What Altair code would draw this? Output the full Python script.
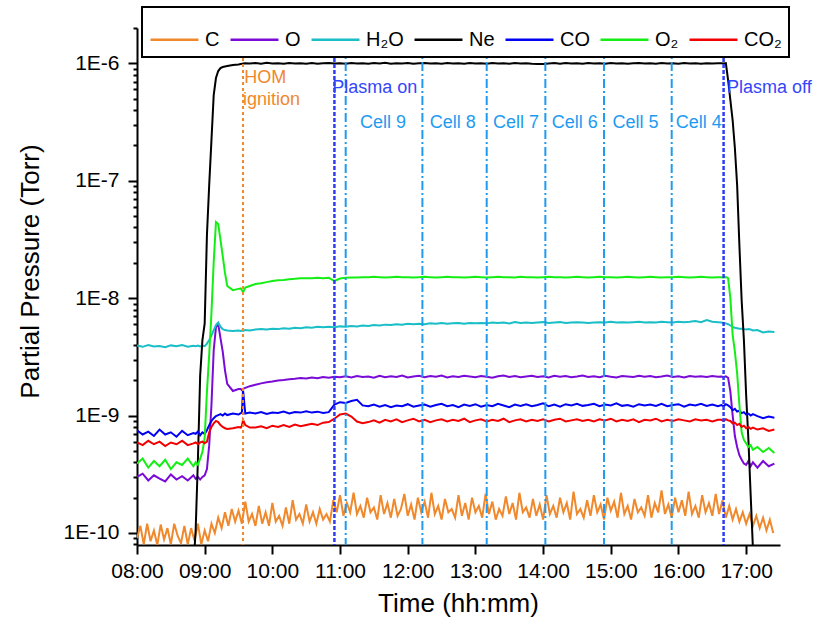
import altair as alt
import pandas as pd

# ---------------- time grid (minutes after 08:00) ----------------
G1 = [0, 5, 10, 15, 20, 25, 30, 35, 40, 45, 50]
G2 = [52, 54, 56, 58, 60, 62, 64, 66, 68, 70, 72, 74, 76, 78, 80]
G3A = [85, 90, 92, 93, 94, 96, 100]
G3B = list(range(105, 516, 5))
G4 = [518, 520, 522, 524, 526, 528, 530, 532, 534, 536, 538, 540, 542, 544, 546]
G5 = [550, 555, 560, 565]
MINUTES = G1 + G2 + G3A + G3B + G4 + G5
# the C trace is read at a finer, regular 3-minute spacing
C_MINUTES = list(range(0, 566, 3))

# ---------------- partial pressures, in units of 1E-10 Torr ----------------
NE = ([0.4, 0.4, 0.4, 0.4, 0.4, 0.4, 0.4, 0.4, 0.4, 0.45, 0.5]
      + [1.06, 4.2, 22, 44, 61, 345, 918, 2220, 5370, 7500, 8600, 9120, 9310, 9400, 9490]
      + [9690, 9770, 9860, 9900, 9950, 10000, 9950]
      + [10050, 9920, 10100, 9980, 10030, 9900, 10080, 9960, 10020, 9940,
         10060, 9930, 10010, 10090, 9950, 10040, 9910, 10070, 9980, 10020,
         9940, 10050, 9990, 10100, 9920, 10030, 9970, 10060, 9900, 10010,
         10080, 9950, 10020, 9930, 10060, 9990, 10040, 9910, 10070, 9960,
         10030, 9940, 10090, 9970, 10010, 9920, 10050, 9980, 10040, 9900,
         9850, 9880, 9960, 10050, 9930, 10070, 9990, 10020, 9940, 10060,
         9970, 10030, 9910, 10080, 9960, 10040, 9920, 10010, 10070, 9950,
         10020, 9940, 10060, 9980, 10030, 9900, 10050, 9970, 10010, 9930,
         10040, 9960, 10020]
      + [10000, 9950, 10020, 7210, 4870, 3290, 1900, 918, 283, 96, 44, 14.9, 6.2, 2.1, 0.74]
      + [0.4, 0.3, 0.3, 0.3])

O2 = ([3.9, 4.3, 3.6, 4.1, 3.7, 4.2, 3.5, 4.0, 3.8, 4.3, 3.7]
      + [4.0, 3.8, 4.3, 4.9, 6.5, 16, 33, 75, 203, 445, 428, 313, 228, 164, 127]
      + [117, 120, 121, 117, 112, 123, 127]
      + [132, 134, 137, 140, 142, 143, 145, 146, 148, 148,
         148, 149, 148, 149, 140, 147, 149, 150, 150, 151,
         151, 152, 151, 150, 151, 152, 151, 151, 150, 151,
         152, 151, 150, 151, 152, 151, 151, 150, 151, 152,
         151, 150, 151, 152, 151, 151, 150, 152, 151, 151,
         150, 151, 152, 151, 151, 150, 151, 152, 151, 150,
         151, 152, 151, 151, 150, 151, 152, 151, 150, 151,
         152, 151, 150, 151, 151, 152, 151, 150, 151, 152,
         151, 150, 151]
      + [151, 150, 151, 148, 100, 49, 35, 23, 12.3, 7.2, 6.2, 5.8, 5.4, 5.6, 5.1]
      + [5.4, 4.9, 5.3, 4.8])

H2O = ([39.5, 38.5, 39.8, 38.8, 39.2, 38.2, 39.6, 38.9, 39.9, 38.6, 39.3]
       + [39, 39.5, 38.8, 39.4, 39, 41, 44, 48, 53.5, 59, 62, 57, 54.5, 53.5, 53]
       + [52.5, 53, 52.5, 53, 52.5, 53.5, 53]
       + [54, 54.5, 54, 55, 54.5, 55.5, 55, 56, 55.5, 56.5,
          56, 57, 56.5, 57, 56.5, 57.5, 57, 58, 57.5, 58.5,
          58, 59, 58.5, 59.5, 59, 60, 59.5, 60.5, 60, 60.5,
          60, 61, 60.5, 61.5, 60.5, 61, 61.5, 60.5, 61.5, 61,
          61.5, 61, 62, 61.5, 62, 61, 62.5, 61.5, 62, 61.5,
          62, 62.5, 61.5, 62, 62.5, 61.5, 62, 62.5, 62, 61.5,
          62, 62.5, 62, 63, 62, 62.5, 62, 62.5, 63, 62,
          62.5, 62, 63, 62.5, 62, 63, 62.5, 63, 64, 62.5,
          65, 63, 62.5]
       + [62, 61.5, 61, 60, 58.5, 57, 56, 55.5, 55, 55, 54.5, 54, 54.5, 54, 53]
       + [53.5, 51, 52, 51.5])

O = ([3.0, 3.2, 2.8, 3.1, 2.9, 2.75, 3.15, 2.85, 3.05, 2.8, 3.1]
     + [2.9, 3.0, 2.85, 3.0, 3.1, 3.5, 5.6, 12.3, 36, 56.7, 60, 45.6, 35, 24.3, 18.6]
     + [16.2, 16.8, 16.8, 16.5, 16.9, 17.2, 17.8]
     + [18.3, 18.8, 19.2, 19.5, 19.9, 20.1, 20.4, 20.6, 20.9, 20.7,
        21.1, 20.8, 21.3, 21.0, 21.4, 21.2, 21.6, 21.1, 21.7, 21.3,
        21.5, 21.0, 21.8, 21.2, 21.6, 21.3, 21.9, 21.1, 21.5, 21.8,
        21.2, 21.7, 21.4, 21.9, 21.1, 21.6, 21.3, 21.8, 21.5, 21.2,
        21.7, 21.4, 21.0, 21.6, 21.9, 21.3, 21.7, 21.2, 21.5, 21.8,
        21.3, 21.6, 21.1, 21.8, 21.4, 21.7, 21.2, 21.5, 21.9, 21.3,
        21.6, 21.2, 21.8, 21.4, 21.1, 21.7, 21.5, 21.3, 21.8, 21.4,
        21.7, 21.2, 21.5, 21.9, 21.3, 21.6, 21.1, 21.7, 21.4, 21.6,
        21.3, 21.7, 21.4]
     + [21.5, 21.2, 21.6, 21.0, 16, 10.1, 6.7, 5.4, 4.6, 4.2, 3.9, 3.8, 4.1, 3.7, 4.0]
     + [3.6, 4.1, 3.7, 3.9])

CO = ([7.5, 6.9, 7.3, 6.7, 7.6, 6.9, 7.2, 6.6, 7.4, 6.8, 7.1]
      + [7.0, 7.3, 6.8, 7.2, 7.0, 7.5, 8.3, 9.0, 9.5, 9.9, 10.1, 10.3, 10.0, 10.4, 10.1]
      + [10.4, 10.2, 10.5, 10.6, 16.5, 10.4, 10.6]
      + [10.4, 10.7, 10.3, 10.6, 10.5, 10.8, 10.4, 10.7, 10.6, 10.9,
         10.6, 10.8, 10.5, 10.7, 12.4, 13.0, 12.8, 13.3, 13.6, 12.2,
         12.0, 12.4, 11.9, 12.3, 11.8, 12.2, 12.0, 12.5, 11.9, 12.2,
         12.4, 11.9, 12.3, 12.6, 12.0, 12.3, 11.8, 12.4, 12.1, 12.5,
         11.9, 12.3, 12.0, 12.6, 12.2, 11.8, 12.4, 12.1, 12.5, 12.0,
         12.3, 12.7, 12.0, 12.4, 11.9, 12.5, 12.2, 12.6, 12.1, 12.3,
         12.6, 12.0, 12.4, 12.2, 12.7, 12.1, 12.3, 11.9, 12.5, 12.2,
         12.4, 12.1, 12.6, 12.0, 12.3, 12.5, 11.9, 12.4, 12.2, 12.6,
         12.1, 12.4, 12.0]
      + [12.3, 12.0, 12.5, 12.2, 11.8, 11.1, 11.4, 10.8, 11.0, 10.5, 10.7, 10.2, 10.4, 10.0, 10.3]
      + [9.9, 9.5, 9.8, 9.6])

CO2 = ([5.9, 5.6, 6.1, 5.7, 6.0, 5.5, 5.9, 5.7, 6.1, 5.6, 5.8]
       + [5.9, 5.7, 5.9, 6.0, 5.8, 6.0, 7.2, 8.0, 8.6, 9.0, 8.8, 8.3, 8.0, 7.8, 7.7]
       + [7.8, 8.0, 7.9, 8.2, 9.2, 8.3, 7.9]
       + [7.9, 8.1, 7.8, 8.2, 8.0, 8.3, 8.0, 8.4, 8.1, 8.3,
          8.5, 8.3, 8.7, 8.8, 9.4, 10.2, 10.4, 9.8, 8.9, 8.6,
          8.8, 9.1, 8.7, 9.2, 8.9, 9.3, 8.8, 9.1, 9.4, 8.9,
          9.2, 8.8, 9.1, 9.3, 8.9, 9.2, 9.0, 9.4, 8.8, 9.1,
          9.3, 8.9, 9.2, 9.0, 9.4, 8.8, 9.1, 9.3, 8.9, 9.2,
          9.0, 9.3, 8.9, 9.2, 9.4, 8.9, 9.1, 9.3, 9.0, 9.2,
          8.9, 9.3, 9.1, 9.4, 8.9, 9.2, 9.0, 9.3, 8.8, 9.2,
          9.1, 9.4, 8.9, 9.2, 9.0, 9.3, 9.1, 8.9, 9.3, 9.1,
          9.2, 8.9, 9.2]
       + [9.2, 9.0, 9.3, 9.1, 9.0, 8.6, 8.7, 8.3, 8.5, 8.0, 8.2, 7.8, 8.0, 7.7, 7.9]
       + [7.6, 7.8, 7.4, 7.6])

C = [0.9, 1.15, 0.8, 1.2, 0.85, 1.05, 0.79, 1.18, 0.88, 1.1,
     0.8, 1.2, 0.95, 0.82, 1.15, 0.8, 1.1, 0.86, 1.2, 0.8,
     1.05, 0.85, 1.2, 1.0, 1.35, 1.1, 1.5, 1.15, 1.6, 1.25,
     1.55, 1.2, 1.85, 1.25, 1.45, 1.15, 1.7, 1.2, 1.5, 1.15,
     1.8, 1.25, 1.4, 1.15, 1.65, 1.2, 1.9, 1.3, 1.45, 1.2,
     1.75, 1.25, 1.5, 1.2, 1.6, 1.3, 1.45, 1.25, 1.9, 1.5,
     2.1, 1.4, 1.8, 1.5, 2.2, 1.45, 1.7, 1.35, 2.0, 1.5,
     1.65, 1.3, 2.1, 1.45, 1.8, 1.35, 1.95, 1.4, 1.6, 2.15,
     1.4, 1.75, 1.3, 2.0, 1.5, 1.85, 1.35, 2.2, 1.45, 1.7,
     1.3, 1.95, 1.5, 1.6, 1.35, 2.1, 1.4, 1.8, 1.3, 2.0,
     1.5, 1.7, 1.35, 2.15, 1.45, 1.85, 1.3, 1.6, 1.4, 2.05,
     1.45, 1.8, 1.3, 2.2, 1.5, 1.65, 1.35, 1.95, 1.4, 1.75,
     1.3, 2.1, 1.45, 1.7, 1.35, 2.0, 1.5, 1.8, 1.3, 2.25,
     1.45, 1.6, 1.35, 1.9, 1.4, 2.1, 1.5, 1.75, 1.3, 2.0,
     1.55, 1.85, 1.35, 2.2, 1.45, 1.7, 1.3, 1.95, 1.5, 1.65,
     1.4, 2.1, 1.35, 1.8, 1.5, 2.3, 1.45, 1.75, 1.35, 2.0,
     1.5, 1.9, 1.4, 2.25, 1.45, 1.7, 1.35, 2.1, 1.5, 1.8,
     1.4, 2.15, 1.45, 1.9, 1.35, 1.7, 1.3, 1.6, 1.25, 1.5,
     1.2, 1.45, 1.15, 1.4, 1.1, 1.35, 1.05, 1.3, 1.0]

SERIES = ["C", "O", "H\u2082O", "Ne", "CO", "O\u2082", "CO\u2082"]
VALUES = [C, O, H2O, NE, CO, O2, CO2]
COLORS = ["#F0882C", "#7A0BD6", "#19BEC6", "#000000", "#0000F2", "#14EE14", "#F20000"]

# event markers
HOM_TIME = ["09:34"]
PLASMA_TIMES = ["10:55", "16:40"]
CELL_TIMES = ["11:05", "12:13", "13:10", "14:02", "14:54", "15:54"]

CELL_LABELS = ["Cell 9", "Cell 8", "Cell 7", "Cell 6", "Cell 5", "Cell 4"]
CELL_LABEL_TIMES = ["11:38", "12:40", "13:36", "14:28", "15:22", "16:18"]
PLASMA_LABELS = ["Plasma on", "Plasma off"]
PLASMA_LABEL_TIMES = ["10:53", "16:43"]
HOM_LABELS = ["HOM", "ignition"]
HOM_LABEL_TIMES = ["09:35", "09:34"]
HOM_LABEL_P = [7.5e-7, 4.87e-7]


def hours(s):
    h, m = s.split(":")
    return int(h) + int(m) / 60.0


rows = []
for name, vals in zip(SERIES, VALUES):
    times = C_MINUTES if name == "C" else MINUTES
    if len(vals) != len(times):
        raise ValueError(f"{name}: {len(vals)} values vs {len(times)} times")
    for m, v in zip(times, vals):
        rows.append({"t": 8 + m / 60.0, "p": v * 1e-10, "s": name})
df = pd.DataFrame(rows)

FONT = "Liberation Sans"
xscale = alt.Scale(domain=[8, 17.5], nice=False, zero=False)
yscale = alt.Scale(type="log", domain=[7.9e-11, 2e-6], nice=False)

xticks = [8 + 0.5 * i for i in range(20)]
yticks = []
for e in range(-11, -5):
    for k in range(1, 10):
        v = k * 10.0 ** e
        if 7.9e-11 <= v <= 2.0001e-6:
            yticks.append(float(f"{v:.3g}"))

x_axis = alt.Axis(
    values=xticks,
    labelExpr="datum.value % 1 == 0 ? (datum.value < 10 ? '0' : '') + datum.value + ':00' : ''",
    tickSize={"condition": {"test": "datum.value % 1 == 0", "value": 9}, "value": 5},
    title="Time (hh:mm)",
    titleX=321, titleY=58, titleBaseline="middle", titleAlign="center",
    labelPadding=6, labelOverlap=False, labelFlush=False,
)
y_axis = alt.Axis(
    values=yticks,
    labelExpr="abs(log(datum.value)/LN10 - round(log(datum.value)/LN10)) < 0.01 ? '1E' + round(log(datum.value)/LN10) : ''",
    tickSize={"condition": {"test": "abs(log(datum.value)/LN10 - round(log(datum.value)/LN10)) < 0.01", "value": 9}, "value": 4},
    title="Partial Pressure (Torr)",
    titleX=-107, titleY=243, titleBaseline="middle", titleAlign="center", titleAngle=270,
    labelPadding=9, labelOverlap=False, labelFlush=False,
)

lines = alt.Chart(df).mark_line(strokeWidth=2, clip=True).encode(
    x=alt.X("t:Q", scale=xscale, axis=x_axis),
    y=alt.Y("p:Q", scale=yscale, axis=y_axis),
    color=alt.Color(
        "s:N",
        scale=alt.Scale(domain=SERIES, range=COLORS),
        sort=SERIES,
        legend=alt.Legend(
            orient="none", legendX=5, legendY=-21, direction="horizontal", title=None,
            symbolType="stroke", symbolSize=2300, symbolStrokeWidth=2.5,
            labelFont=FONT, labelFontSize=20, labelColor="black",
            columnPadding=5, labelOffset=5, padding=7,
            strokeColor="black", fillColor="white",
        ),
    ),
    detail="s:N",
)

hom_df = pd.DataFrame({"t": [hours(s) for s in HOM_TIME]})
plasma_df = pd.DataFrame({"t": [hours(s) for s in PLASMA_TIMES]})
cell_df = pd.DataFrame({"t": [hours(s) for s in CELL_TIMES]})

hom_rule = alt.Chart(hom_df).mark_rule(color="#F0882C", strokeWidth=2, strokeDash=[3, 3]).encode(
    x=alt.X("t:Q", scale=xscale))
plasma_rule = alt.Chart(plasma_df).mark_rule(color="#2F3DF5", strokeWidth=2.5, strokeDash=[4, 2]).encode(
    x=alt.X("t:Q", scale=xscale))
cell_rule = alt.Chart(cell_df).mark_rule(color="#1E9BF0", strokeWidth=2, strokeDash=[9, 3, 2, 3]).encode(
    x=alt.X("t:Q", scale=xscale))

cell_txt_df = pd.DataFrame({"t": [hours(s) for s in CELL_LABEL_TIMES], "p": [3.1e-7] * len(CELL_LABELS),
                            "label": CELL_LABELS})
plasma_txt_df = pd.DataFrame({"t": [hours(s) for s in PLASMA_LABEL_TIMES], "p": [6.16e-7] * 2,
                              "label": PLASMA_LABELS})
hom_txt_df = pd.DataFrame({"t": [hours(s) for s in HOM_LABEL_TIMES], "p": HOM_LABEL_P, "label": HOM_LABELS})

cell_txt = alt.Chart(cell_txt_df).mark_text(font=FONT, fontSize=18, color="#1E9BF0", align="center",
                                            baseline="middle").encode(
    x=alt.X("t:Q", scale=xscale), y=alt.Y("p:Q", scale=yscale), text="label:N")
plasma_txt = alt.Chart(plasma_txt_df).mark_text(font=FONT, fontSize=18, color="#3446FA", align="left",
                                                baseline="middle").encode(
    x=alt.X("t:Q", scale=xscale), y=alt.Y("p:Q", scale=yscale), text="label:N")
hom_txt = alt.Chart(hom_txt_df).mark_text(font=FONT, fontSize=18, color="#F0882C", align="left",
                                          baseline="middle").encode(
    x=alt.X("t:Q", scale=xscale), y=alt.Y("p:Q", scale=yscale), text="label:N")

chart = alt.layer(
    lines, hom_rule, plasma_rule, cell_rule, cell_txt, plasma_txt, hom_txt
).properties(
    width=643, height=517,
    autosize=alt.AutoSizeParams(type="none"),
    padding={"left": 137, "top": 28, "right": 33, "bottom": 80},
).configure_view(
    stroke=None
).configure_axis(
    grid=False, domainColor="black", domainWidth=2, tickColor="black", tickWidth=2,
    labelFont=FONT, labelFontSize=21, labelColor="black",
    titleFont=FONT, titleFontSize=26, titleFontWeight="normal", titleColor="black",
).configure_legend(
    strokeWidth=2
)

chart.save("out.html", embed_options={"renderer": "svg", "actions": False})
